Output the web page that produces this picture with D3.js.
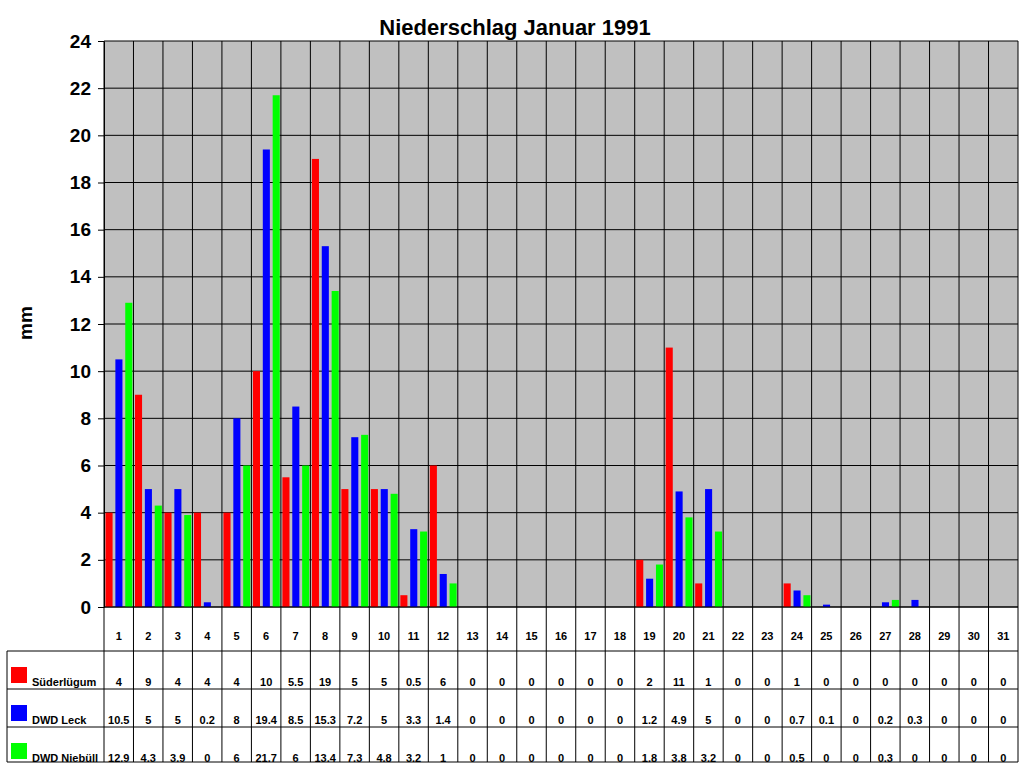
<!DOCTYPE html>
<html><head><meta charset="utf-8">
<script src="https://cdn.jsdelivr.net/npm/d3@7"></script>
<style>body{margin:0;background:#fff}text{font-family:"Liberation Sans",Arial,sans-serif;font-weight:bold}</style>
</head><body><svg id="c" width="1024" height="768"></svg>
<script>
var days = d3.range(1, 32).map(String);
var seriesNames = ["Süderlügum", "DWD Leck", "DWD Niebüll"];
var colors = ["#ff0000", "#0000ff", "#00ff00"];
var suederluegum = [4,9,4,4,4,10,5.5,19,5,5,0.5,6,0,0,0,0,0,0,2,11,1,0,0,1,0,0,0,0,0,0,0];
var leck = [10.5,5,5,0.2,8,19.4,8.5,15.3,7.2,5,3.3,1.4,0,0,0,0,0,0,1.2,4.9,5,0,0,0.7,0.1,0,0.2,0.3,0,0,0];
var niebuell = [12.9,4.3,3.9,0,6,21.7,6,13.4,7.3,4.8,3.2,1,0,0,0,0,0,0,1.8,3.8,3.2,0,0,0.5,0,0,0.3,0,0,0,0];
var yTicks = d3.range(0, 25, 2);
var allSeries = [suederluegum, leck, niebuell];

var svg = d3.select("#c");
var L = 104, R = 1018, T = 41, B = 607;
var x = d3.scaleBand().domain(days).range([L, R]);
var y = d3.scaleLinear().domain([0, 24]).range([B, T]);
var bw = x.bandwidth();

svg.append("text").attr("x", 515).attr("y", 35).attr("text-anchor", "middle")
  .attr("font-size", 22).text("Niederschlag Januar 1991");

svg.append("rect").attr("x", L).attr("y", T).attr("width", R - L).attr("height", B - T).attr("fill", "#c0c0c0");

// grid
svg.append("g").selectAll("line").data(yTicks).enter().append("line")
  .attr("x1", L).attr("x2", R).attr("y1", y).attr("y2", y).attr("stroke", "#000").attr("stroke-width", 1);
svg.append("g").selectAll("line").data(days.concat(["end"])).enter().append("line")
  .attr("x1", function(d) { return d == "end" ? R : x(d); })
  .attr("x2", function(d) { return d == "end" ? R : x(d); })
  .attr("y1", T).attr("y2", 762).attr("stroke", "#000");

// bars
allSeries.forEach(function(s, k) {
  svg.append("g").attr("fill", colors[k]).selectAll("rect").data(s).enter().append("rect")
    .attr("x", function(d, i) { return x(days[i]) + 1.5 + k * bw * 0.335; })
    .attr("width", bw * 0.24)
    .attr("y", function(d) { return y(d); })
    .attr("height", function(d) { return B - y(d); });
});

// y axis
var ya = svg.append("g").attr("transform", "translate(" + L + ",0)")
  .call(d3.axisLeft(y).tickValues(yTicks).tickSize(6).tickSizeOuter(0));
ya.select(".domain").attr("stroke", "#000");
ya.selectAll("text").attr("font-size", 19).attr("font-family", "Liberation Sans, Arial").attr("font-weight", "bold").attr("dx", -4);
svg.append("text").attr("transform", "translate(32,323) rotate(-90)").attr("text-anchor", "middle")
  .attr("font-size", 19).text("mm");

// table
var rows = [607, 651, 689, 727, 762];
svg.append("g").selectAll("line").data(rows).enter().append("line")
  .attr("x1", function(d, i) { return i == 0 ? L : 7; }).attr("x2", R)
  .attr("y1", function(d) { return d; }).attr("y2", function(d) { return d; }).attr("stroke", "#000");
svg.append("line").attr("x1", 7).attr("x2", 7).attr("y1", 651).attr("y2", 762).attr("stroke", "#000");
svg.append("g").selectAll("text").data(days).enter().append("text")
  .attr("x", function(d) { return x(d) + bw / 2; }).attr("y", 640).attr("text-anchor", "middle")
  .attr("font-size", 11).text(function(d) { return d; });
allSeries.forEach(function(s, k) {
  var yy = rows[k + 1] + 35;
  svg.append("rect").attr("x", 11).attr("y", rows[k + 1] + 16).attr("width", 16).attr("height", 16).attr("fill", colors[k]);
  svg.append("text").attr("x", 32).attr("y", yy).attr("font-size", 11).text(seriesNames[k]);
  svg.append("g").selectAll("text").data(s).enter().append("text")
    .attr("x", function(d, i) { return x(days[i]) + bw / 2; }).attr("y", yy).attr("text-anchor", "middle")
    .attr("font-size", 11).text(function(d) { return d; });
});
</script></body></html>
